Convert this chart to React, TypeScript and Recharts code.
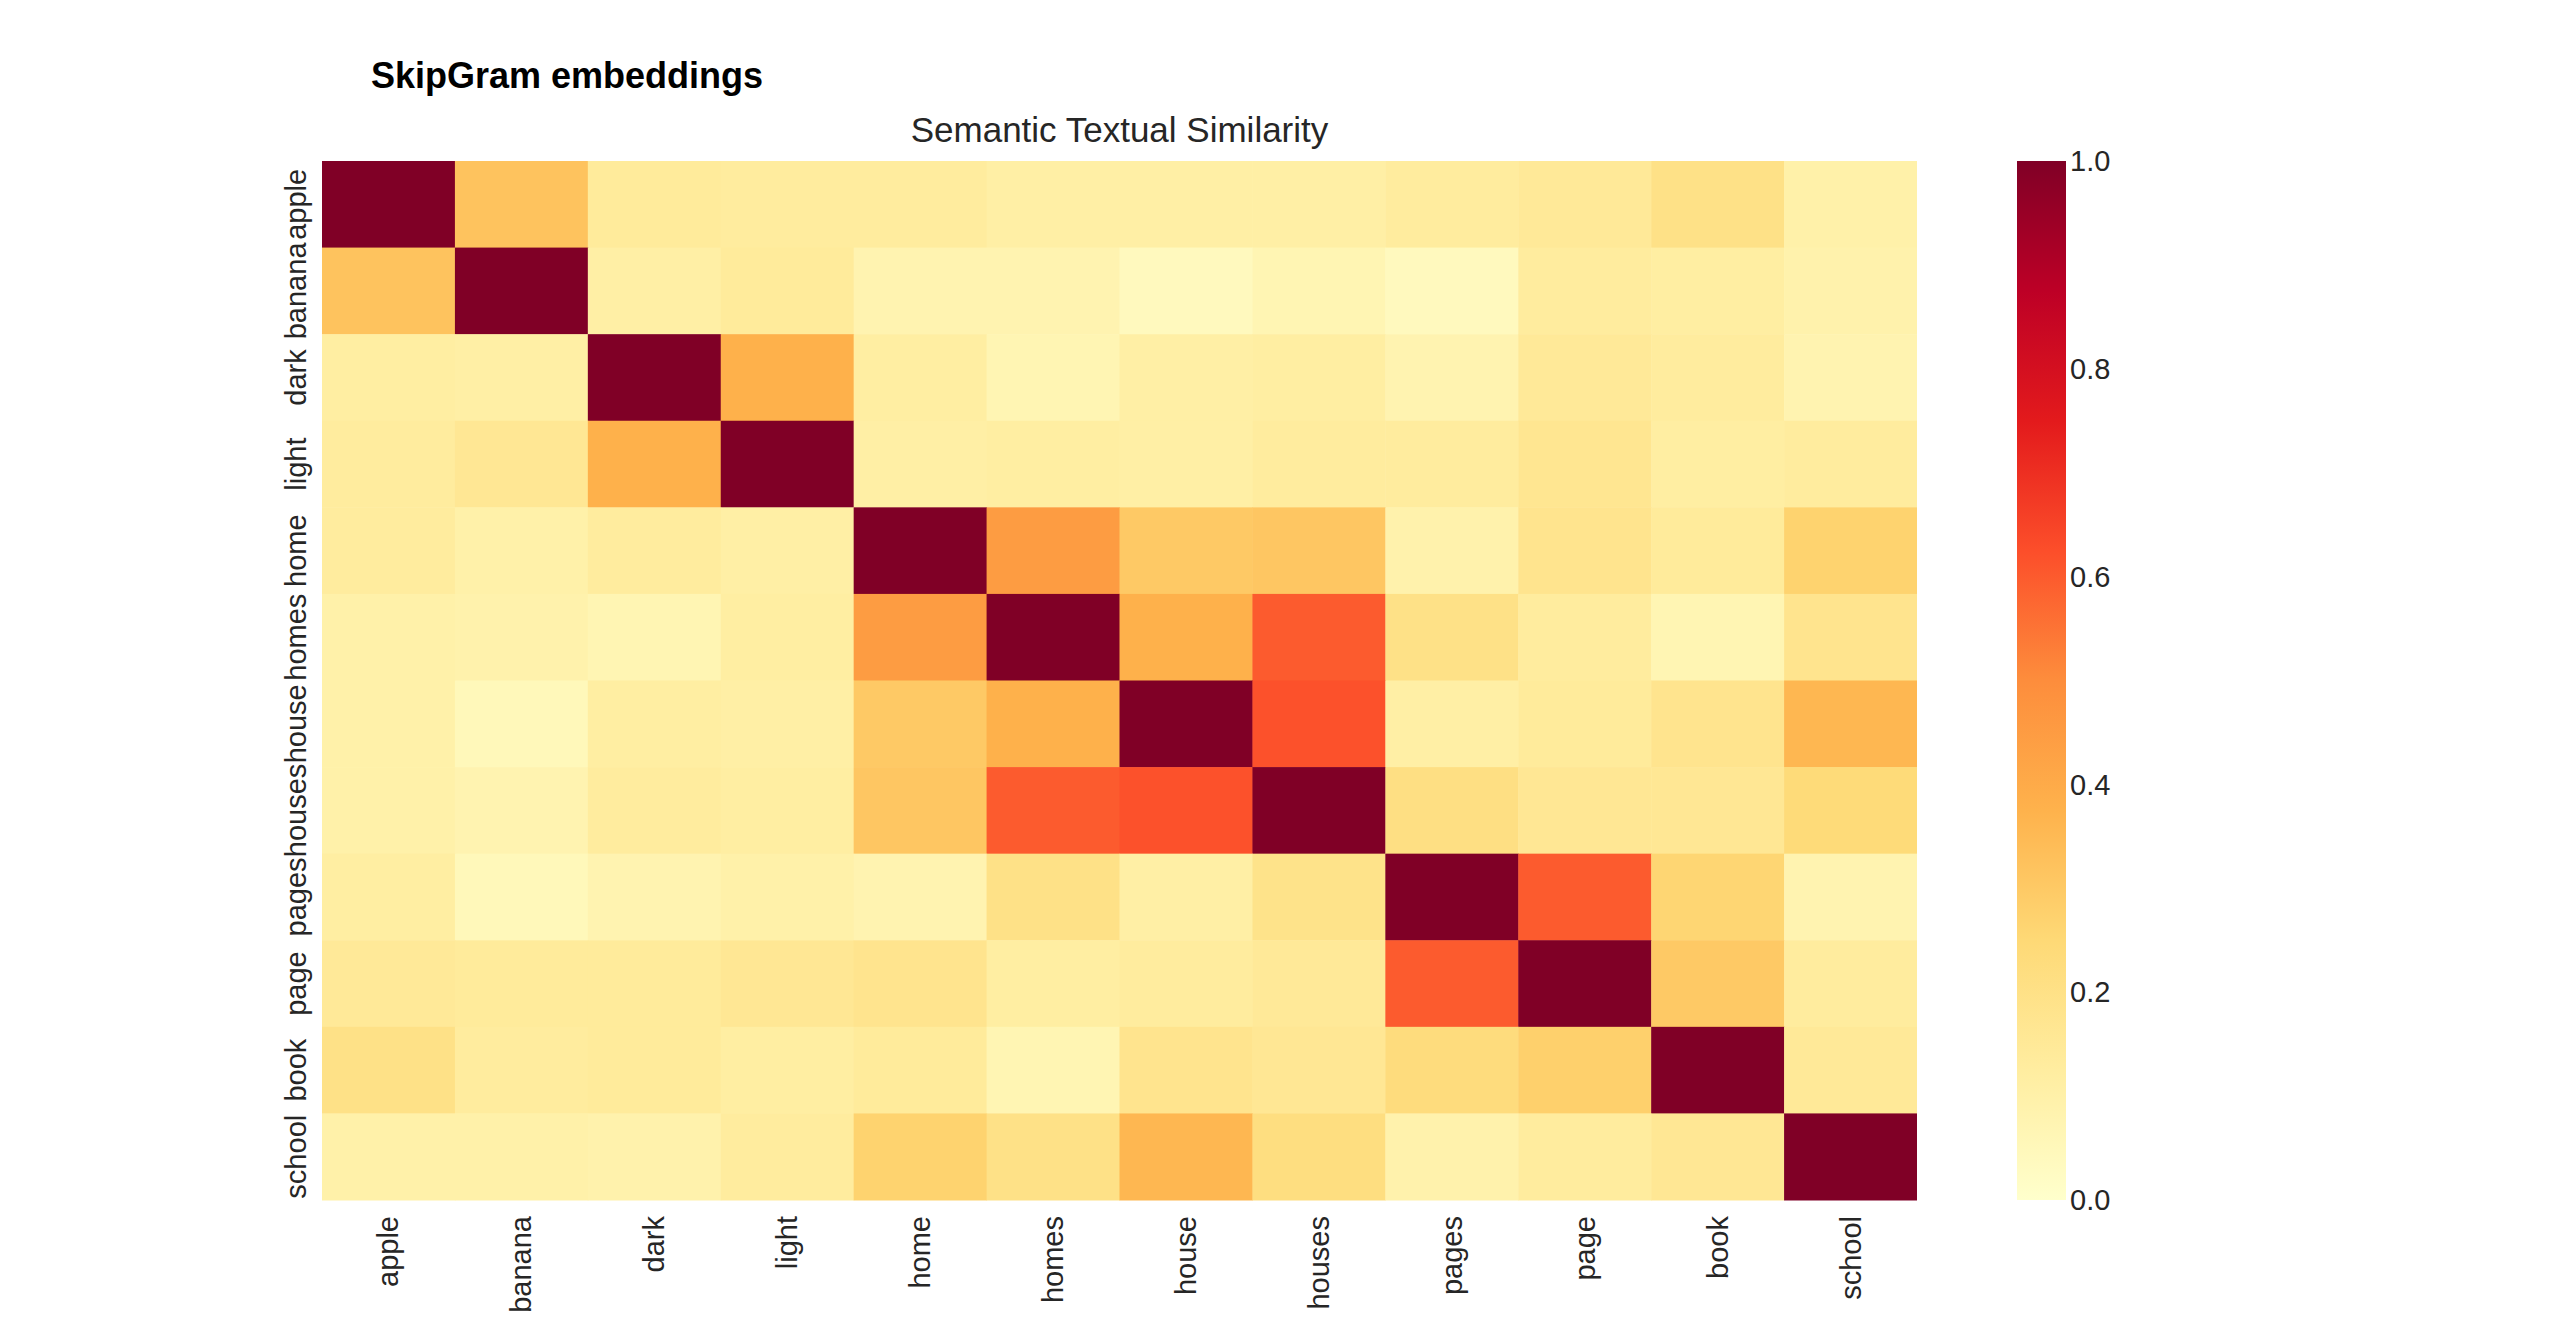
import React from 'react';
import { ScatterChart, Scatter, XAxis, YAxis, BarChart, Bar } from 'recharts';

const words = ['apple', 'banana', 'dark', 'light', 'home', 'homes', 'house', 'houses', 'pages', 'page', 'book', 'school'];

const similarity = [
    [1, 0.32, 0.14, 0.13, 0.13, 0.11, 0.11, 0.11, 0.13, 0.15, 0.2, 0.1],
    [0.32, 1, 0.11, 0.14, 0.08, 0.08, 0.04, 0.07, 0.04, 0.13, 0.12, 0.09],
    [0.12, 0.11, 1, 0.38, 0.12, 0.07, 0.11, 0.12, 0.08, 0.15, 0.13, 0.08],
    [0.13, 0.16, 0.38, 1, 0.11, 0.12, 0.11, 0.13, 0.13, 0.17, 0.12, 0.13],
    [0.13, 0.1, 0.13, 0.11, 1, 0.45, 0.3, 0.31, 0.09, 0.18, 0.14, 0.27],
    [0.1, 0.09, 0.07, 0.12, 0.45, 1, 0.38, 0.6, 0.2, 0.13, 0.07, 0.18],
    [0.1, 0.05, 0.12, 0.11, 0.3, 0.38, 1, 0.62, 0.11, 0.14, 0.18, 0.36],
    [0.1, 0.08, 0.13, 0.12, 0.31, 0.6, 0.62, 1, 0.21, 0.16, 0.16, 0.24],
    [0.12, 0.05, 0.08, 0.1, 0.08, 0.2, 0.11, 0.19, 1, 0.6, 0.26, 0.08],
    [0.15, 0.14, 0.14, 0.16, 0.18, 0.12, 0.13, 0.15, 0.6, 1, 0.3, 0.13],
    [0.2, 0.13, 0.14, 0.12, 0.14, 0.07, 0.18, 0.16, 0.23, 0.28, 1, 0.15],
    [0.1, 0.1, 0.09, 0.13, 0.27, 0.2, 0.36, 0.22, 0.09, 0.13, 0.16, 1],
];

const colorbarTicks = [0, 0.2, 0.4, 0.6, 0.8, 1];

const YLORRD = ['#ffffcc', '#ffeda0', '#fed976', '#feb24c', '#fd8d3c', '#fc4e2a', '#e31a1c', '#bd0026', '#800026'];

const hex = (h: string) => [1, 3, 5].map(i => parseInt(h.slice(i, i + 2), 16));
function colorFor(v: number) {
    const t = Math.max(0, Math.min(1, v)) * (YLORRD.length - 1);
    const i = Math.min(Math.floor(t), YLORRD.length - 2);
    const f = t - i;
    const a = hex(YLORRD[i]);
    const b = hex(YLORRD[i + 1]);
    const c = a.map((x, k) => Math.round(x + (b[k] - x) * f));
    return `rgb(${c[0]},${c[1]},${c[2]})`;
}

const cells = similarity.flatMap((row, r) => row.map((v, c) => ({ x: c + 0.5, y: r + 0.5, v })));
const centers = words.map((_, i) => i + 0.5);

const FONT = '"Liberation Sans", Arial, sans-serif';
const PLOT_W = 1917 - 322;
const PLOT_H = 1200 - 161;
const CW = PLOT_W / 12;
const CH = PLOT_H / 12;

const Cell = (p: any) => (
    <rect x={p.cx - CW / 2} y={p.cy - CH / 2} width={CW + 0.5} height={CH + 0.5} fill={colorFor(p.payload.v)} />
);

const XTick = (p: any) => (
    <text x={p.x} y={p.y + 8} transform={`rotate(-90 ${p.x} ${p.y + 8})`} textAnchor="end" dominantBaseline="central"
        fontSize={29} fill="#262626" fontFamily={FONT}>{words[Math.floor(p.payload.value)]}</text>
);

const YTick = (p: any) => (
    <text x={p.x - 8} y={p.y} transform={`rotate(-90 ${p.x - 8} ${p.y})`} textAnchor="middle"
        fontSize={29} fill="#262626" fontFamily={FONT}>{words[Math.floor(p.payload.value)]}</text>
);

const colorbarData = [{ name: 'cb', value: 1 }];

export default function App() {
    return (
        <div style={{ position: 'absolute', left: 0, top: 0, width: 2560, height: 1340, background: '#fff', fontFamily: FONT }}>
            <div style={{ position: 'absolute', left: 371, top: 55, fontSize: 36, fontWeight: 'bold', color: '#000' }}>SkipGram embeddings</div>
            <div style={{ position: 'absolute', left: 322, width: PLOT_W, top: 110, textAlign: 'center', fontSize: 35, color: '#262626' }}>Semantic Textual Similarity</div>
            <div style={{ position: 'absolute', left: 0, top: 0 }}>
                <ScatterChart width={1917} height={1340} margin={{ top: 161, right: 0, bottom: 0, left: 272 }}>
                    <XAxis type="number" dataKey="x" domain={[0, 12]} ticks={centers} interval={0} height={140}
                        axisLine={false} tickLine={false} tick={<XTick />} />
                    <YAxis type="number" dataKey="y" domain={[0, 12]} ticks={centers} interval={0} width={50} reversed
                        axisLine={false} tickLine={false} tick={<YTick />} />
                    <Scatter data={cells} shape={<Cell />} isAnimationActive={false} />
                </ScatterChart>
            </div>
            <div style={{ position: 'absolute', left: 2017, top: 0 }}>
                <BarChart width={200} height={1340} data={colorbarData} margin={{ top: 161, right: 0, bottom: 140, left: 0 }}
                    barCategoryGap={0}>
                    <defs>
                        <linearGradient id="ylorrd" x1="0" y1="1" x2="0" y2="0">
                            {YLORRD.map((c, i) => <stop key={i} offset={i / (YLORRD.length - 1)} stopColor={c} />)}
                        </linearGradient>
                    </defs>
                    <XAxis dataKey="name" hide />
                    <YAxis orientation="right" domain={[0, 1]} ticks={colorbarTicks} width={151} axisLine={false}
                        tickLine={false} tick={{ fontSize: 29, fill: '#262626', fontFamily: FONT, dx: -4 }}
                        tickFormatter={(v: number) => v.toFixed(1)} />
                    <Bar dataKey="value" fill="url(#ylorrd)" isAnimationActive={false} />
                </BarChart>
            </div>
        </div>
    );
}
